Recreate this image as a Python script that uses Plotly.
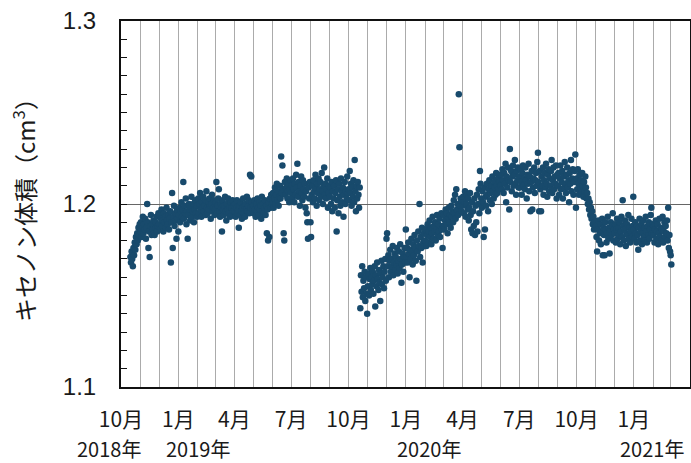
import pandas as pd
import plotly.graph_objects as go

# Daily xenon volume readings (cm3), one list per calendar year, one value per day
start_2018 = "2018-10-16"
vol_2018 = [
    # Oct
    1.171, 1.168, 1.174, 1.170, 1.166, 1.176, 1.172, 1.179, 1.175, 1.182, 1.178, 1.184, 1.180, 1.187, 1.183, 1.189,
    # Nov
    1.185, 1.190, 1.182, 1.188, 1.193, 1.184, 1.189, 1.186, 1.192, 1.181, 1.187, 1.200, 1.190, 1.176, 1.185,
    1.171, 1.188, 1.194, 1.183, 1.189, 1.186, 1.191, 1.184, 1.183, 1.190, 1.187, 1.193, 1.185, 1.188, 1.195,
    # Dec
    1.189, 1.194, 1.186, 1.192, 1.197, 1.188, 1.191, 1.185, 1.195, 1.190, 1.193, 1.187, 1.198, 1.191, 1.189,
    1.194, 1.186, 1.192, 1.196, 1.168, 1.190, 1.206, 1.176, 1.193, 1.199, 1.188, 1.195, 1.191, 1.181, 1.197, 1.192,
]

start_2019 = "2019-01-01"
vol_2019 = [
    # Jan
    1.185, 1.194, 1.198, 1.190, 1.196, 1.201, 1.193, 1.197, 1.212, 1.192, 1.199, 1.195, 1.203, 1.189, 1.196,
    1.181, 1.194, 1.200, 1.197, 1.191, 1.198, 1.204, 1.193, 1.196, 1.200, 1.190, 1.197, 1.202, 1.195, 1.199, 1.193,
    # Feb
    1.199, 1.203, 1.195, 1.200, 1.206, 1.197, 1.193, 1.201, 1.198, 1.204, 1.196, 1.199, 1.202, 1.194,
    1.207, 1.198, 1.195, 1.201, 1.197, 1.203, 1.199, 1.192, 1.200, 1.205, 1.196, 1.198, 1.202, 1.194,
    # Mar
    1.197, 1.201, 1.212, 1.195, 1.199, 1.203, 1.208, 1.196, 1.193, 1.200, 1.198, 1.185, 1.202, 1.197, 1.194,
    1.199, 1.204, 1.196, 1.191, 1.200, 1.197, 1.203, 1.195, 1.199, 1.193, 1.201, 1.198, 1.194, 1.202, 1.196, 1.199,
    # Apr
    1.196, 1.200, 1.193, 1.198, 1.202, 1.195, 1.197, 1.187, 1.199, 1.194, 1.201, 1.196, 1.192, 1.198, 1.203,
    1.195, 1.199, 1.193, 1.200, 1.197, 1.204, 1.196, 1.199, 1.202, 1.195, 1.216, 1.198, 1.215, 1.201, 1.197,
    # May
    1.199, 1.195, 1.202, 1.197, 1.193, 1.200, 1.196, 1.203, 1.198, 1.194, 1.201, 1.197, 1.199, 1.192, 1.204,
    1.196, 1.200, 1.195, 1.198, 1.202, 1.194, 1.199, 1.184, 1.197, 1.180, 1.201, 1.182, 1.203, 1.198, 1.205, 1.200,
    # Jun
    1.201, 1.206, 1.198, 1.203, 1.209, 1.200, 1.205, 1.211, 1.202, 1.207, 1.199, 1.204, 1.210, 1.203, 1.226,
    1.206, 1.221, 1.208, 1.184, 1.180, 1.212, 1.205, 1.209, 1.214, 1.203, 1.207, 1.211, 1.201, 1.208, 1.213,
    # Jul
    1.206, 1.210, 1.203, 1.214, 1.208, 1.201, 1.211, 1.205, 1.216, 1.209, 1.222, 1.204, 1.212, 1.207, 1.199,
    1.210, 1.215, 1.206, 1.202, 1.213, 1.208, 1.204, 1.211, 1.198, 1.207, 1.195, 1.190, 1.181, 1.209, 1.203, 1.212,
    # Aug
    1.190, 1.182, 1.205, 1.210, 1.201, 1.213, 1.207, 1.203, 1.216, 1.209, 1.199, 1.211, 1.206, 1.214, 1.202,
    1.208, 1.212, 1.204, 1.217, 1.207, 1.200, 1.210, 1.220, 1.205, 1.211, 1.203, 1.208, 1.214, 1.198, 1.206, 1.210,
    # Sep
    1.204, 1.209, 1.200, 1.212, 1.196, 1.207, 1.203, 1.210, 1.198, 1.206, 1.213, 1.185, 1.202, 1.208, 1.195,
    1.211, 1.204, 1.199, 1.214, 1.207, 1.201, 1.209, 1.193, 1.205, 1.212, 1.200, 1.207, 1.203, 1.215, 1.206,
    # Oct (step down on the 20th)
    1.208, 1.202, 1.218, 1.206, 1.211, 1.199, 1.209, 1.204, 1.213, 1.201, 1.224, 1.207, 1.196, 1.210, 1.203,
    1.212, 1.205, 1.198, 1.209,
    1.143, 1.161, 1.152, 1.166, 1.149, 1.158, 1.154, 1.163, 1.147, 1.160, 1.151, 1.140,
    # Nov
    1.155, 1.162, 1.150, 1.159, 1.165, 1.153, 1.160, 1.156, 1.163, 1.151, 1.158, 1.166, 1.144, 1.161, 1.155,
    1.168, 1.159, 1.153, 1.164, 1.157, 1.147, 1.162, 1.169, 1.156, 1.160, 1.166, 1.154, 1.163, 1.170, 1.158,
    # Dec
    1.181, 1.184, 1.166, 1.172, 1.160, 1.169, 1.175, 1.163, 1.170, 1.166, 1.177, 1.161, 1.168, 1.173, 1.164,
    1.171, 1.167, 1.176, 1.162, 1.169, 1.174, 1.165, 1.178, 1.170, 1.157, 1.167, 1.173, 1.163, 1.171, 1.176, 1.168,
]

start_2020 = "2020-01-01"
vol_2020 = [
    # Jan
    1.186, 1.171, 1.176, 1.168, 1.179, 1.173, 1.160, 1.175, 1.170, 1.181, 1.174, 1.167, 1.178, 1.172, 1.183,
    1.176, 1.169, 1.158, 1.180, 1.174, 1.185, 1.177, 1.200, 1.171, 1.182, 1.176, 1.187, 1.168, 1.179, 1.184, 1.177,
    # Feb
    1.180, 1.186, 1.177, 1.183, 1.189, 1.179, 1.185, 1.191, 1.182, 1.187, 1.178, 1.184, 1.193, 1.181, 1.188,
    1.185, 1.190, 1.180, 1.186, 1.194, 1.183, 1.189, 1.185, 1.192, 1.182, 1.188, 1.195, 1.186, 1.176,
    # Mar
    1.188, 1.194, 1.186, 1.191, 1.197, 1.189, 1.195, 1.184, 1.192, 1.198, 1.190, 1.194, 1.187, 1.199, 1.193,
    1.196, 1.190, 1.202, 1.195, 1.205, 1.192, 1.208, 1.197, 1.200, 1.194, 1.260, 1.231, 1.199, 1.203, 1.196, 1.201,
    # Apr
    1.199, 1.204, 1.195, 1.201, 1.207, 1.193, 1.200, 1.205, 1.197, 1.203, 1.191, 1.198, 1.206, 1.194, 1.186,
    1.201, 1.184, 1.196, 1.188, 1.203, 1.183, 1.199, 1.190, 1.205, 1.185, 1.200, 1.208, 1.195, 1.218, 1.211,
    # May
    1.203, 1.198, 1.207, 1.201, 1.182, 1.209, 1.186, 1.204, 1.199, 1.211, 1.205, 1.196, 1.208, 1.213, 1.202,
    1.206, 1.210, 1.200, 1.215, 1.207, 1.203, 1.212, 1.209, 1.205, 1.217, 1.210, 1.206, 1.214, 1.208, 1.212, 1.216,
    # Jun
    1.210, 1.216, 1.208, 1.219, 1.213, 1.206, 1.217, 1.211, 1.222, 1.201, 1.215, 1.209, 1.220, 1.213, 1.197,
    1.230, 1.212, 1.218, 1.207, 1.215, 1.221, 1.210, 1.216, 1.224, 1.211, 1.205, 1.218, 1.213, 1.220, 1.209,
    # Jul
    1.215, 1.209, 1.219, 1.212, 1.205, 1.217, 1.221, 1.210, 1.214, 1.208, 1.220, 1.213, 1.203, 1.216, 1.211,
    1.222, 1.207, 1.215, 1.196, 1.212, 1.218, 1.197, 1.209, 1.214, 1.220, 1.206, 1.213, 1.217, 1.210, 1.223, 1.228,
    # Aug
    1.212, 1.196, 1.218, 1.208, 1.196, 1.215, 1.210, 1.220, 1.205, 1.213, 1.217, 1.209, 1.222, 1.211, 1.204,
    1.216, 1.219, 1.207, 1.214, 1.210, 1.218, 1.224, 1.206, 1.213, 1.220, 1.208, 1.215, 1.211, 1.221, 1.203, 1.216,
    # Sep
    1.210, 1.217, 1.205, 1.214, 1.221, 1.208, 1.212, 1.218, 1.203, 1.215, 1.209, 1.223, 1.211, 1.206, 1.216,
    1.220, 1.209, 1.213, 1.201, 1.217, 1.211, 1.224, 1.207, 1.214, 1.219, 1.205, 1.212, 1.218, 1.227, 1.198,
    # Oct
    1.214, 1.208, 1.219, 1.211, 1.205, 1.216, 1.209, 1.213, 1.206, 1.217, 1.210, 1.204, 1.212, 1.207, 1.215,
    1.209, 1.203, 1.206, 1.200, 1.203, 1.197, 1.201, 1.194, 1.198, 1.192, 1.196, 1.189, 1.193, 1.186, 1.190, 1.187,
    # Nov
    1.188, 1.182, 1.174, 1.186, 1.191, 1.180, 1.184, 1.189, 1.178, 1.185, 1.192, 1.172, 1.187, 1.183, 1.172,
    1.190, 1.186, 1.179, 1.184, 1.193, 1.181, 1.187, 1.173, 1.185, 1.190, 1.183, 1.188, 1.195, 1.180, 1.186,
    # Dec
    1.184, 1.189, 1.179, 1.186, 1.192, 1.181, 1.187, 1.183, 1.190, 1.178, 1.185, 1.193, 1.182, 1.202, 1.188,
    1.180, 1.186, 1.191, 1.177, 1.184, 1.189, 1.183, 1.194, 1.181, 1.187, 1.179, 1.185, 1.192, 1.182, 1.188, 1.204,
]

start_2021 = "2021-01-01"
vol_2021 = [
    # Jan
    1.186, 1.181, 1.190, 1.184, 1.179, 1.188, 1.183, 1.175, 1.187, 1.192, 1.180, 1.185, 1.189, 1.178, 1.184,
    1.191, 1.182, 1.187, 1.180, 1.193, 1.185, 1.179, 1.188, 1.183, 1.190, 1.181, 1.186, 1.194, 1.198, 1.184, 1.189,
    # Feb
    1.183, 1.188, 1.179, 1.186, 1.191, 1.181, 1.185, 1.189, 1.178, 1.184, 1.192, 1.182, 1.187, 1.180,
    1.186, 1.193, 1.179, 1.185, 1.190, 1.182, 1.188, 1.184, 1.191, 1.180, 1.198, 1.176, 1.183, 1.174,
    # Mar
    1.172, 1.167,
]

# Axis labelling
tick_dates = ["2018-10-01", "2019-01-01", "2019-04-01", "2019-07-01", "2019-10-01",
              "2020-01-01", "2020-04-01", "2020-07-01", "2020-10-01", "2021-01-01"]
tick_text = ["10月", "1月", "4月", "7月", "10月", "1月", "4月", "7月", "10月", "1月"]
year_dates = ["2018-10-01", "2019-01-01", "2020-01-01", "2021-01-01"]
year_text = ["2018年", "2019年", "2020年", "2021年"]
year_shift = [-12, 20, 23, 18]
y_ticks = [1.1, 1.2, 1.3]
y_text = ["1.1", "1.2", "1.3"]

dates, values = [], []
for start, vals in [(start_2018, vol_2018), (start_2019, vol_2019),
                    (start_2020, vol_2020), (start_2021, vol_2021)]:
    dates += list(pd.date_range(start, periods=len(vals), freq="D").strftime("%Y-%m-%d"))
    values += vals

DOT = "#184a6c"
GRID = "#ababab"
JP = "Noto Sans CJK JP"

fig = go.Figure()
fig.add_trace(go.Scatter(
    x=dates, y=values, mode="markers",
    marker=dict(size=6.5, color=DOT, line=dict(width=0)),
    showlegend=False, hoverinfo="x+y",
))

fig.update_xaxes(
    type="date", range=["2018-10-01", "2021-04-01"],
    tickmode="array", tickvals=tick_dates, ticktext=tick_text,
    tickfont=dict(family=JP, size=21, color="#1a1a1a"),
    ticks="", ticklabelstandoff=13,
    showgrid=True, gridcolor=GRID, gridwidth=1,
    minor=dict(dtick="M1", tick0="2018-10-01", showgrid=True, gridcolor=GRID, gridwidth=1, ticks=""),
    showline=True, linecolor="#111", linewidth=2, mirror=True,
    zeroline=False,
)
fig.update_yaxes(
    range=[1.1, 1.3], tickmode="array", tickvals=y_ticks, ticktext=y_text,
    tickfont=dict(family="Liberation Sans, Arial", size=24, color="#1a1a1a"),
    ticks="inside", ticklen=6, tickcolor="#111", tickwidth=1,
    minor=dict(dtick=0.01, tick0=1.1, ticks="inside", ticklen=6, tickcolor="#111", tickwidth=1, showgrid=False),
    ticklabelstandoff=18,
    showgrid=True, gridcolor="#666", gridwidth=1,
    showline=True, linecolor="#111", linewidth=2, mirror=True,
    zeroline=False,
    title=dict(text="キセノン体積（cm<sup>3</sup>）", font=dict(family=JP, size=24, color="#1a1a1a"), standoff=20),
)

for d, t, s in zip(year_dates, year_text, year_shift):
    fig.add_annotation(
        x=d, xref="x", y=0, yref="paper", xshift=s, yshift=-61,
        text=t, showarrow=False, xanchor="center", yanchor="middle",
        font=dict(family=JP, size=20, color="#1a1a1a"),
    )

fig.update_layout(
    width=691, height=463,
    margin=dict(l=121, r=1, t=21, b=76, autoexpand=False),
    plot_bgcolor="white", paper_bgcolor="white",
)

fig.write_html("out.html")
